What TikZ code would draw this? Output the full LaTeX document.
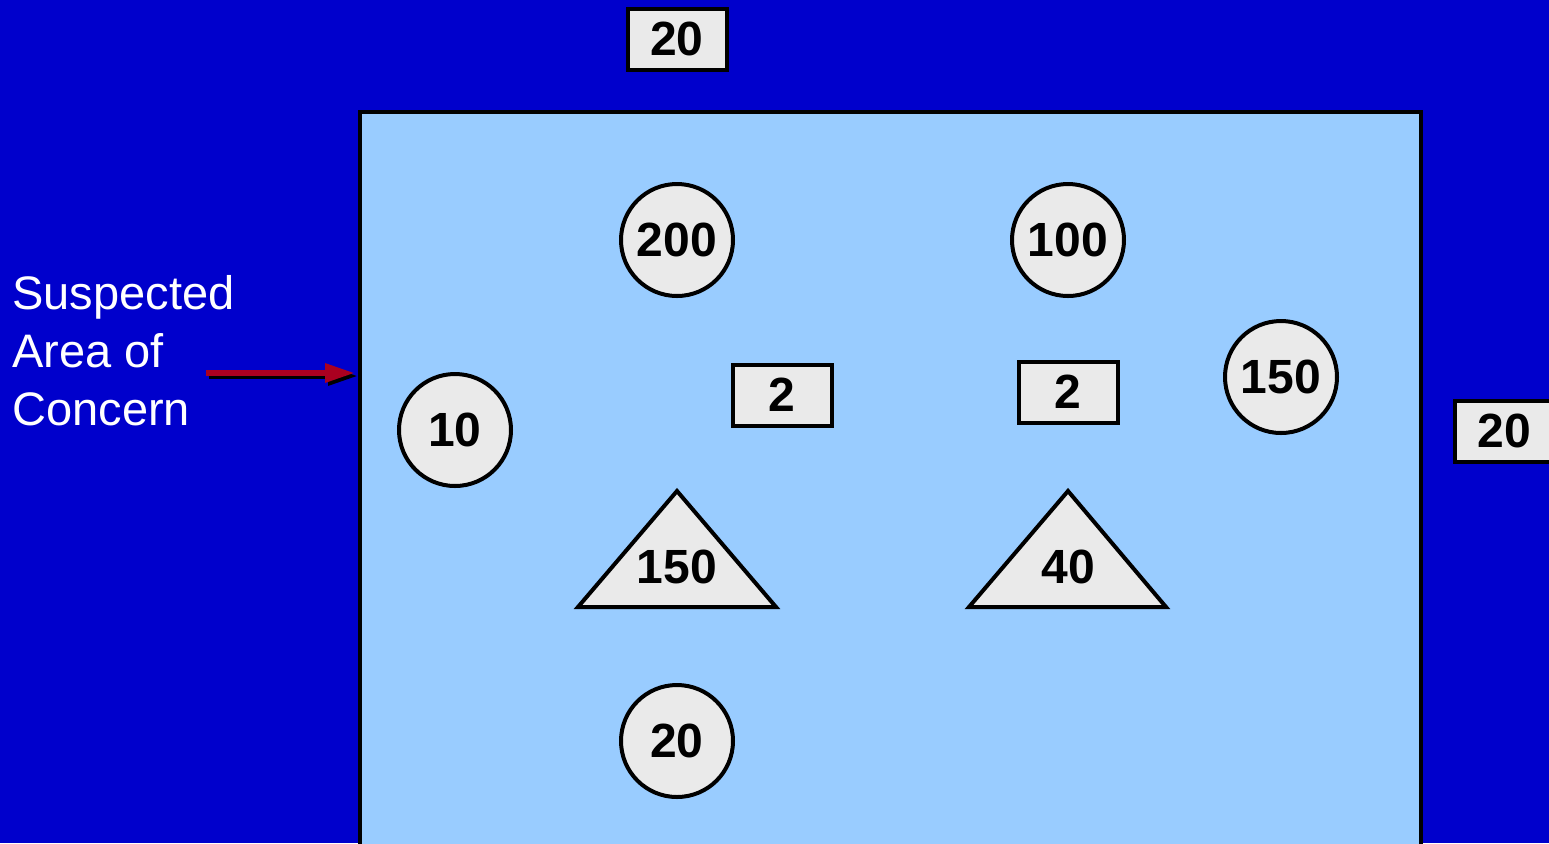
\documentclass[tikz,border=0pt]{standalone}
\usepackage{fontspec}
\setmainfont{Liberation Sans}
\usepackage{tikz}
\usetikzlibrary{arrows.meta,positioning,calc}
\definecolor{navy}{RGB}{0,0,204}
\definecolor{skyfill}{RGB}{153,204,255}
\definecolor{chipgray}{RGB}{234,234,234}
\definecolor{pointer}{RGB}{170,0,32}
\newcommand{\conc}[1]{\textbf{#1}}

\begin{document}
\begin{tikzpicture}[x=0.5pt,y=-0.5pt,
    sample/.style={draw=black,line width=2pt,fill=chipgray,inner sep=0pt,
      font=\fontsize{24}{28}\selectfont},
    well/.style={sample,circle,minimum size=56pt},
    chip/.style={sample,rectangle,minimum width=49.5pt,minimum height=30.5pt},
    cone/.style={draw=black,line width=2pt,fill=chipgray,line join=miter}]
  \useasboundingbox (0,0) rectangle (1549,843);
  \clip (0,0) rectangle (1549,843);
  \fill[navy] (0,0) rectangle (1549,843);
  % area of concern
  \draw[line width=2pt,fill=skyfill] (360,112) rectangle (1421,900);
  \coordinate (area) at (360,373);
  % outside the area
  \node[chip] (top20) at (677,39) {\conc{20}};
  \node[chip] (east20) at (1504,431) {\conc{20}};
  % circles
  \node[well] (w200) at (677,240) {\conc{200}};
  \node[well] (w100) at (1068,240) {\conc{100}};
  \node[well] (w150) at (1281,377) {\conc{150}};
  \node[well] (w10)  at (455,430) {\conc{10}};
  \node[well] (w20)  at (677,741) {\conc{20}};
  % boxes
  \node[chip] (c2a) at (782,395) {\conc{2}};
  \node[chip] (c2b) at (1068,392) {\conc{2}};
  % triangles
  \draw[cone] (677,491) -- (776,607) -- (578,607) -- cycle;
  \node[font=\fontsize{24}{28}\selectfont] (t150) at (677,567) {\conc{150}};
  \draw[cone] (1068,491) -- (1166,607) -- (969,607) -- cycle;
  \node[font=\fontsize{24}{28}\selectfont] (t40) at (1068,567) {\conc{40}};
  % label and pointer
  \node[anchor=west,align=left,text=white,inner sep=0pt,
    font=\fontsize{23.5}{29}\selectfont] (label) at (12,351)
    {Suspected\\Area of\\Concern};
  \coordinate (tail) at (206,373);
  \draw[black,line width=3pt,-{Triangle[length=15pt,width=9pt]}]
    ($(tail)+(3,3)$) -- ($(area)+(-2,3)$);
  \draw[pointer,line width=3pt,-{Triangle[length=15pt,width=9pt]}]
    (tail) -- ($(area)+(-5,0)$);
\end{tikzpicture}
\end{document}
